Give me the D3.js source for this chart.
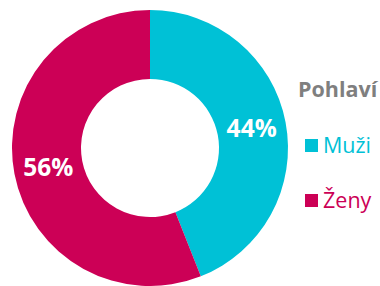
<!DOCTYPE html>
<meta charset="utf-8">
<head>
    <title>Pohlaví</title>
    <script src="https://cdn.jsdelivr.net/npm/d3@7"></script>
    <style>
        body { margin: 0; background: #fff; }
        text { font-family: "Open Sans", sans-serif; }
    </style>
</head>
<body>
    <div id="chart"></div>
    <script>
        // data
        var categories = ["Muži", "Ženy"];
        var shares = [44, 56];
        var colors = ["#00c1d6", "#cc0056"];
        var legendTitle = "Pohlaví";

        var width = 380, height = 286;
        var cx = 150, cy = 148, outerR = 138, innerR = 69;

        var svg = d3.select("#chart").append("svg")
            .attr("width", width)
            .attr("height", height);

        var color = d3.scaleOrdinal().domain(categories).range(colors);

        var pie = d3.pie().sort(null).value(function (d) { return d.value; });
        var arc = d3.arc().innerRadius(innerR).outerRadius(outerR);

        var data = categories.map(function (c, i) { return { name: c, value: shares[i] }; });

        var g = svg.append("g").attr("transform", "translate(" + cx + "," + cy + ")");

        var slices = g.selectAll("g.slice")
            .data(pie(data))
            .enter().append("g").attr("class", "slice");

        slices.append("path")
            .attr("d", arc)
            .attr("fill", function (d) { return color(d.data.name); });

        slices.append("text")
            .attr("transform", function (d) { return "translate(" + arc.centroid(d) + ")"; })
            .attr("text-anchor", "middle")
            .attr("dy", "0.36em")
            .attr("fill", "#fff")
            .attr("font-weight", "bold")
            .attr("font-size", 24.5)
            .text(function (d) { return d.data.value + "%"; });

        // legend
        var legend = svg.append("g").attr("transform", "translate(298,0)");
        legend.append("text")
            .attr("x", 0).attr("y", 97)
            .attr("fill", "#7f7f7f")
            .attr("font-weight", "bold")
            .attr("font-size", 21.5)
            .text(legendTitle);

        var items = legend.selectAll("g.item")
            .data(categories)
            .enter().append("g").attr("class", "item")
            .attr("transform", function (d, i) { return "translate(7," + (153 + i * 55) + ")"; });

        items.append("rect")
            .attr("x", 0).attr("y", -14)
            .attr("width", 13).attr("height", 13)
            .attr("fill", function (d) { return color(d); });

        items.append("text")
            .attr("x", 18).attr("y", 0)
            .attr("fill", function (d) { return color(d); })
            .attr("font-size", 21.5)
            .text(function (d) { return d; });
    </script>
</body>
